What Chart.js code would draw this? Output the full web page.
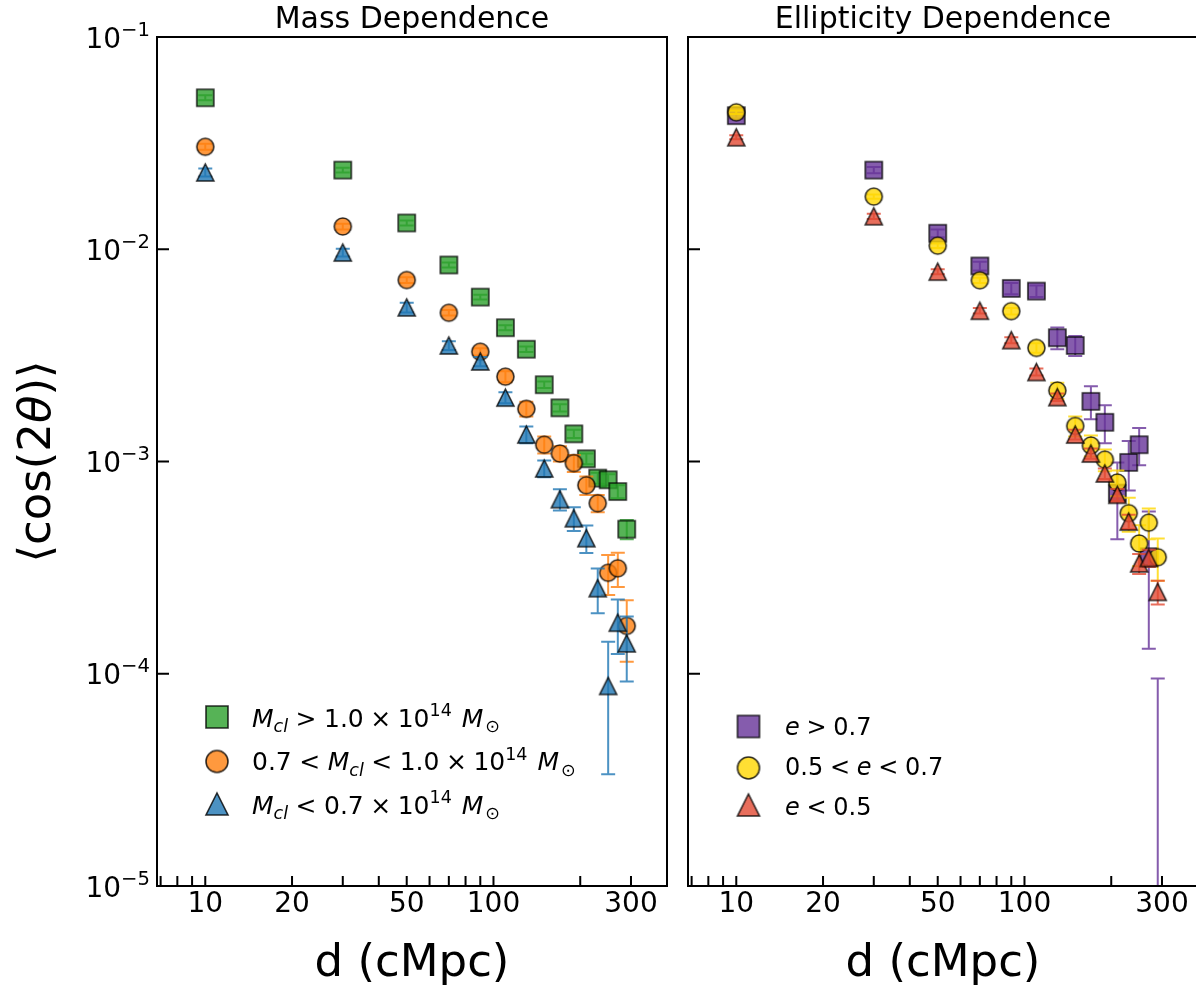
<!DOCTYPE html>
<html>
<head>
<meta charset="utf-8">
<script src="https://cdn.jsdelivr.net/npm/chart.js@4.4.1/dist/chart.umd.min.js"></script>
<style>
html,body{margin:0;padding:0;background:#ffffff;overflow:hidden;width:1196px;height:987px;}
canvas{position:absolute;left:0;top:0;}
</style>
</head>
<body>
<canvas id="c1" width="1196" height="987"></canvas>
<canvas id="c2" width="1220" height="987"></canvas>
<script>
// ---------------- data ----------------
const distances = [10, 30, 50, 70, 90, 110, 130, 150, 170, 190, 210, 230, 250, 270, 290];

// Mass dependence
const massHigh    = [0.0517, 0.0236, 0.0133, 0.00843, 0.00595, 0.00427, 0.00338, 0.0023, 0.00179, 0.00135, 0.00103, 0.000835, 0.00082, 0.000722, 0.00048];
const massHighErr = [0.0014, 0.0006, 0.00035, 0.00022, 0.00016, 0.00012, 0.0001, 0.00008, 0.00007, 0.00006, 0.00006, 0.00005, 0.00005, 0.00005, 0.00005];
const massMid     = [0.0304, 0.0128, 0.00716, 0.00502, 0.00329, 0.00251, 0.00177, 0.0012, 0.00109, 0.000983, 0.000773, 0.000636, 0.000299, 0.000314, 0.000168];
const massMidErr  = [0.001, 0.0004, 0.00022, 0.00015, 0.00013, 0.00015, 0.00014, 0.00011, 0.00009, 0.00009, 0.000077, 0.00006, 0.000064, 0.000058, 0.000054];
const massLow     = [0.0230, 0.00965, 0.00532, 0.00352, 0.00296, 0.0020, 0.00134, 0.000927, 0.000664, 0.00054, 0.000435, 0.000253, 0.0000876, 0.000174, 0.000139];
const massLowErr  = [0.001, 0.0004, 0.00028, 0.00017, 0.00015, 0.00012, 0.00012, 0.000085, 0.000076, 0.000069, 0.000064, 0.00006, 0.000054, 0.00005, 0.000047];

// Ellipticity dependence
const ellHigh    = [0.0426, 0.0236, 0.0119, 0.00834, 0.00654, 0.00635, 0.00383, 0.00352, 0.00192, 0.00153, 0.00071, 0.00099, 0.0012, 0.000356, -0.00002];
const ellHighErr = [0.0013, 0.0008, 0.0005, 0.0004, 0.0004, 0.0004, 0.00045, 0.00038, 0.00034, 0.00031, 0.00028, 0.00026, 0.00024, 0.000225, 0.000115];
const ellMid     = [0.0442, 0.0177, 0.0104, 0.00714, 0.00511, 0.00343, 0.00216, 0.00147, 0.00119, 0.00102, 0.000796, 0.000571, 0.000411, 0.000515, 0.000354];
const ellMidErr  = [0.0008, 0.0004, 0.00025, 0.0002, 0.00018, 0.00018, 0.00019, 0.00016, 0.000135, 0.00012, 0.00011, 0.000104, 0.00009, 0.000085, 0.00008];
const ellLow     = [0.0337, 0.0143, 0.00784, 0.00513, 0.00373, 0.00264, 0.00201, 0.00134, 0.00109, 0.000878, 0.000697, 0.000521, 0.000331, 0.000351, 0.000243];
const ellLowErr  = [0.00075, 0.0004, 0.00022, 0.00015, 0.00012, 0.0001, 0.00008, 0.00007, 0.00006, 0.00005, 0.000045, 0.00004, 0.000036, 0.000033, 0.000031];

// axes
const xTickValues = [7, 8, 9, 10, 20, 30, 40, 50, 60, 70, 80, 90, 100, 200, 300];
const xTickLabels = ['', '', '', '10', '20', '', '', '50', '', '', '', '', '100', '', '300'];
const yTickValues = [1e-5, 1e-4, 1e-3, 1e-2, 1e-1];
const yTickBase = '10';
const yTickExponents = ['\u22125', '\u22124', '\u22123', '\u22122', '\u22121'];
const xMin = 6.8, xMax = 400, yMin = 1e-5, yMax = 1e-1;

const panelTitles = ['Mass Dependence', 'Ellipticity Dependence'];
const xAxisTitle = 'd (cMpc)';

// ---------------- styling / layout ----------------
const FONT = '"DejaVu Sans", "Liberation Sans", sans-serif';
const AREA_TOP = 37, AREA_BOTTOM = 886, PANEL_W = 510;
const LEFT1 = 157, LEFT2 = 688;

const COLORS = {
  green:  [44, 160, 44],
  orange: [255, 127, 14],
  blue:   [31, 119, 180],
  purple: [102, 51, 153],
  yellow: [255, 215, 0],
  red:    [226, 74, 51]
};
const rgba = (c, a) => `rgba(${c[0]},${c[1]},${c[2]},${a})`;

function makeMarker(shape, col, size) {
  const lw = 1.6, pad = 3;
  const dim = Math.round(size + 2 * pad);
  const c = document.createElement('canvas');
  c.width = dim; c.height = dim;
  const g = c.getContext('2d');
  const cx = dim / 2, cy = dim / 2, h = size / 2;
  g.beginPath();
  if (shape === 'square') g.rect(cx - h, cy - h, size, size);
  else if (shape === 'circle') g.arc(cx, cy, h, 0, Math.PI * 2);
  else { g.moveTo(cx, cy - h); g.lineTo(cx + h, cy + h); g.lineTo(cx - h, cy + h); g.closePath(); }
  g.fillStyle = rgba(col, 0.8);
  g.fill();
  g.lineWidth = lw;
  g.lineJoin = 'miter';
  g.strokeStyle = 'rgba(0,0,0,0.8)';
  g.stroke();
  return c;
}

const MS = 17, LMS = 22;
const markers = {
  green:  makeMarker('square', COLORS.green, MS),
  orange: makeMarker('circle', COLORS.orange, MS),
  blue:   makeMarker('triangle', COLORS.blue, MS),
  purple: makeMarker('square', COLORS.purple, MS),
  yellow: makeMarker('circle', COLORS.yellow, MS),
  red:    makeMarker('triangle', COLORS.red, MS)
};
const legendMarkers = {
  green:  makeMarker('square', COLORS.green, LMS),
  orange: makeMarker('circle', COLORS.orange, LMS),
  blue:   makeMarker('triangle', COLORS.blue, LMS),
  purple: makeMarker('square', COLORS.purple, LMS),
  yellow: makeMarker('circle', COLORS.yellow, LMS),
  red:    makeMarker('triangle', COLORS.red, LMS)
};

function series(vals, errs, key, order) {
  return {
    data: distances.map((d, i) => ({ x: d, y: vals[i] })),
    errors: errs,
    errColor: rgba(COLORS[key], 0.8),
    pointStyle: markers[key],
    pointRadius: 10,
    pointHoverRadius: 10,
    showLine: false,
    order: order
  };
}

// ---------------- plugins ----------------
const errorBars = {
  id: 'errorBars',
  beforeDatasetDraw(chart, args) {
    const ds = chart.data.datasets[args.index];
    if (!ds.errors) return;
    const xs = chart.scales.x, ys = chart.scales.y, a = chart.chartArea, ctx = chart.ctx;
    ctx.save();
    ctx.beginPath();
    ctx.rect(a.left, a.top, a.right - a.left, a.bottom - a.top);
    ctx.clip();
    ctx.strokeStyle = ds.errColor;
    ctx.lineWidth = 2;
    const cap = 7;
    ctx.beginPath();
    ds.data.forEach((p, i) => {
      const e = ds.errors[i];
      const hi = p.y + e, lo = p.y - e;
      if (hi <= 0) return;
      const px = xs.getPixelForValue(p.x);
      const yHi = ys.getPixelForValue(hi);
      const yLo = lo > 0 ? ys.getPixelForValue(lo) : a.bottom + 10;
      ctx.moveTo(px, yHi); ctx.lineTo(px, yLo);
      ctx.moveTo(px - cap, yHi); ctx.lineTo(px + cap, yHi);
      if (lo > 0) { ctx.moveTo(px - cap, yLo); ctx.lineTo(px + cap, yLo); }
    });
    ctx.stroke();
    ctx.restore();
  }
};

const frame = {
  id: 'frame',
  afterDatasetsDraw(chart) {
    const xs = chart.scales.x, ys = chart.scales.y, a = chart.chartArea, ctx = chart.ctx;
    ctx.save();
    ctx.strokeStyle = '#000';
    ctx.lineWidth = 2;
    ctx.beginPath();
    xTickValues.forEach(v => {
      const px = xs.getPixelForValue(v);
      ctx.moveTo(px, a.bottom); ctx.lineTo(px, a.bottom - 10);
    });
    yTickValues.forEach(v => {
      const py = ys.getPixelForValue(v);
      ctx.moveTo(a.left, py); ctx.lineTo(a.left + 12, py);
    });
    ctx.stroke();
    ctx.strokeRect(a.left, a.top, a.right - a.left, a.bottom - a.top);
    ctx.restore();
  }
};

function measureRich(ctx, parts, size) {
  let w = 0;
  parts.forEach(p => {
    if (p.sp) { w += p.sp * size; return; }
    const fs = (p.sub || p.sup) ? size * 0.7 : size;
    ctx.font = `${p.it ? 'italic ' : ''}${fs}px ${FONT}`;
    w += ctx.measureText(p.t).width;
  });
  return w;
}

function drawRich(ctx, parts, x, y, size) {
  let cx = x;
  parts.forEach(p => {
    if (p.sp) { cx += p.sp * size; return; }
    const fs = (p.sub || p.sup) ? size * 0.7 : size;
    ctx.font = `${p.it ? 'italic ' : ''}${fs}px ${FONT}`;
    const dy = p.sub ? size * 0.22 : (p.sup ? -size * 0.42 : 0);
    ctx.fillText(p.t, cx, y + dy);
    cx += ctx.measureText(p.t).width;
  });
  return cx - x;
}

const R = 0.3, B = 0.26;
const legendMass = [
  { key: 'green', parts: [{t:'M',it:1},{t:'cl',it:1,sub:1},{sp:R},{t:'>'},{sp:R},{t:'1.0'},{sp:B},{t:'\u00D7'},{sp:B},{t:'10'},{t:'14',sup:1},{sp:0.4},{t:'M',it:1},{sp:0.08},{t:'\u2299',sub:1}] },
  { key: 'orange', parts: [{t:'0.7'},{sp:R},{t:'<'},{sp:R},{t:'M',it:1},{t:'cl',it:1,sub:1},{sp:R},{t:'<'},{sp:R},{t:'1.0'},{sp:B},{t:'\u00D7'},{sp:B},{t:'10'},{t:'14',sup:1},{sp:0.4},{t:'M',it:1},{sp:0.08},{t:'\u2299',sub:1}] },
  { key: 'blue', parts: [{t:'M',it:1},{t:'cl',it:1,sub:1},{sp:R},{t:'<'},{sp:R},{t:'0.7'},{sp:B},{t:'\u00D7'},{sp:B},{t:'10'},{t:'14',sup:1},{sp:0.4},{t:'M',it:1},{sp:0.08},{t:'\u2299',sub:1}] }
];
const R2 = 0.28;
const legendEll = [
  { key: 'purple', parts: [{t:'e',it:1},{sp:R2},{t:'>'},{sp:R2},{t:'0.7'}] },
  { key: 'yellow', parts: [{t:'0.5'},{sp:R2},{t:'<'},{sp:R2},{t:'e',it:1},{sp:R2},{t:'<'},{sp:R2},{t:'0.7'}] },
  { key: 'red', parts: [{t:'e',it:1},{sp:R2},{t:'<'},{sp:R2},{t:'0.5'}] }
];

const decorations = {
  id: 'decorations',
  afterDraw(chart, args, opts) {
    const ctx = chart.ctx, a = chart.chartArea;
    const cxm = (a.left + a.right) / 2;
    ctx.save();
    ctx.fillStyle = '#000';
    ctx.textBaseline = 'alphabetic';
    ctx.textAlign = 'center';
    ctx.font = `30px ${FONT}`;
    ctx.fillText(opts.title, cxm, 28);
    ctx.font = `45px ${FONT}`;
    ctx.fillText(xAxisTitle, cxm, 976);
    ctx.textAlign = 'left';
    if (opts.yLabel) {
      // y tick labels: 10 with superscript exponent
      const ys = chart.scales.y;
      yTickValues.forEach((v, i) => {
        const py = ys.getPixelForValue(v);
        const parts = [{t: yTickBase}, {t: yTickExponents[i], sup: 1}];
        const w = measureRich(ctx, parts, 28);
        drawRich(ctx, parts, a.left - 7 - w, py + 10.5, 28);
      });
      // y axis title
      ctx.save();
      ctx.translate(50, (a.top + a.bottom) / 2);
      ctx.rotate(-Math.PI / 2);
      const parts = [{t:'\u27E8cos(2'},{t:'\u03B8',it:1},{t:')\u27E9'}];
      const w = measureRich(ctx, parts, 45);
      drawRich(ctx, parts, -w / 2, 0, 45);
      ctx.restore();
    }
    // legend
    opts.legend.items.forEach((it, i) => {
      const lm = legendMarkers[it.key];
      const my = opts.legend.markerY[i];
      ctx.drawImage(lm, opts.legend.markerX - lm.width / 2, my - lm.height / 2);
      drawRich(ctx, it.parts, opts.legend.textX, opts.legend.baseY[i], opts.legend.size);
    });
    ctx.restore();
  }
};

function makeOptions(leftPx, canvasW, title, yLabel, legend) {
  return {
    responsive: false,
    animation: false,
    devicePixelRatio: 1,
    events: [],
    layout: { padding: { left: 0, top: AREA_TOP, right: canvasW - (leftPx + PANEL_W), bottom: 0 } },
    scales: {
      x: {
        type: 'logarithmic', position: 'bottom', min: xMin, max: xMax, bounds: 'data',
        grid: { display: false, drawTicks: false, tickLength: 0 },
        border: { display: false },
        afterBuildTicks: s => { s.ticks = xTickValues.map(v => ({ value: v })); },
        afterFit: s => { s.height = 987 - AREA_BOTTOM; },
        ticks: {
          autoSkip: false, maxRotation: 0, minRotation: 0, padding: 2, color: '#000',
          font: { family: FONT, size: 28 },
          callback: v => { const i = xTickValues.indexOf(v); return i >= 0 ? xTickLabels[i] : ''; }
        }
      },
      y: {
        type: 'logarithmic', position: 'left', min: yMin, max: yMax, bounds: 'data',
        grid: { display: false, drawTicks: false, tickLength: 0 },
        border: { display: false },
        afterBuildTicks: s => { s.ticks = yTickValues.map(v => ({ value: v })); },
        afterFit: s => { s.width = leftPx; },
        ticks: { display: false }
      }
    },
    plugins: {
      legend: { display: false },
      title: { display: false },
      tooltip: { enabled: false },
      decorations: { title: title, yLabel: yLabel, legend: legend }
    }
  };
}

new Chart(document.getElementById('c1'), {
  type: 'scatter',
  data: { datasets: [
    series(massHigh, massHighErr, 'green', 3),
    series(massMid, massMidErr, 'orange', 2),
    series(massLow, massLowErr, 'blue', 1)
  ] },
  options: makeOptions(LEFT1, 1196, panelTitles[0], true,
    { items: legendMass, markerX: 217, markerY: [717, 761.5, 804], textX: 252, baseY: [726.5, 770, 813.5], size: 25 }),
  plugins: [errorBars, frame, decorations]
});

new Chart(document.getElementById('c2'), {
  type: 'scatter',
  data: { datasets: [
    series(ellHigh, ellHighErr, 'purple', 3),
    series(ellMid, ellMidErr, 'yellow', 2),
    series(ellLow, ellLowErr, 'red', 1)
  ] },
  options: makeOptions(LEFT2, 1220, panelTitles[1], false,
    { items: legendEll, markerX: 748.5, markerY: [726.5, 768, 805], textX: 785, baseY: [735, 775, 815], size: 24 }),
  plugins: [errorBars, frame, decorations]
});
</script>
</body>
</html>
